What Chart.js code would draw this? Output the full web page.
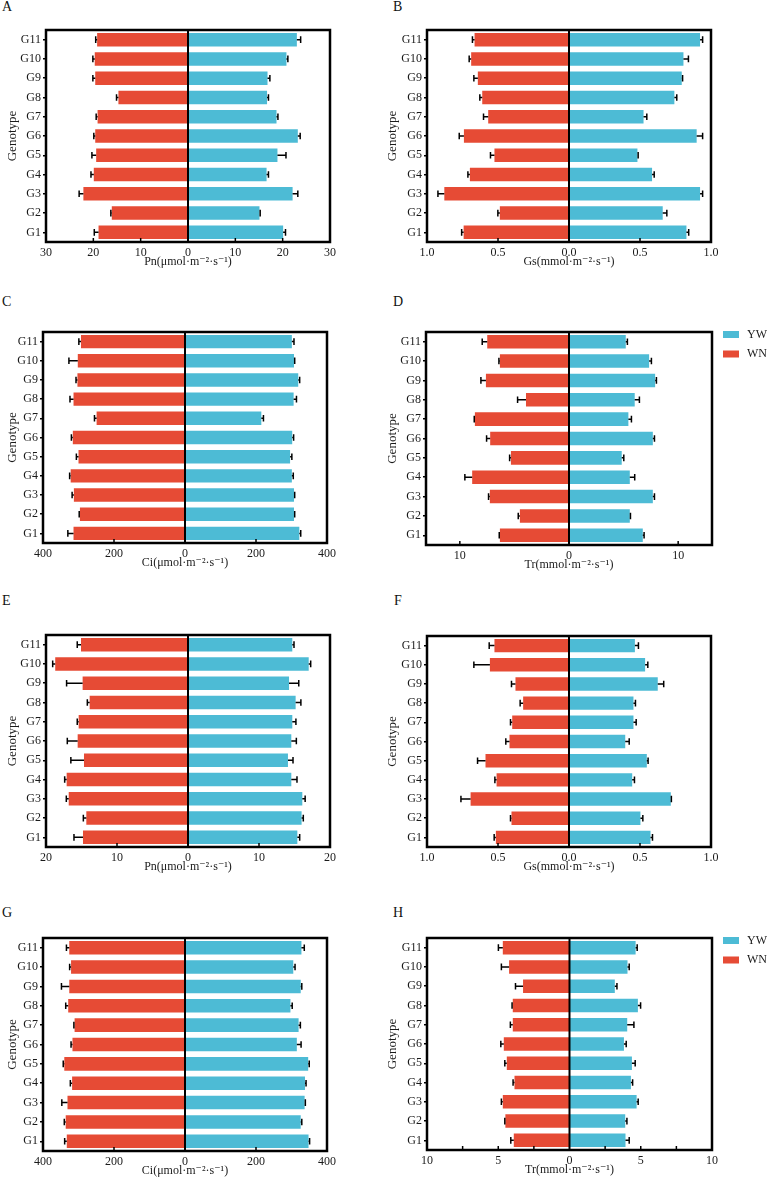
<!DOCTYPE html>
<html>
<head>
<meta charset="utf-8">
<script src="https://cdn.jsdelivr.net/npm/chart.js@4.4.1/dist/chart.umd.min.js"></script>
<style>
  body { margin: 0; background: #fff; width: 767px; height: 1181px; position: relative; overflow: hidden;
         font-family: 'Liberation Serif', 'DejaVu Serif', serif; }
  .panel { position: absolute; }
  .letter { position: absolute; font-size: 14px; line-height: 14px; color: #111; }
</style>
</head>
<body>
<div class="letter" style="left:2px;top:0px">A</div>
<div class="letter" style="left:393px;top:0px">B</div>
<div class="letter" style="left:2px;top:295px">C</div>
<div class="letter" style="left:393px;top:295px">D</div>
<div class="letter" style="left:2px;top:594px">E</div>
<div class="letter" style="left:394px;top:594px">F</div>
<div class="letter" style="left:2px;top:906px">G</div>
<div class="letter" style="left:393px;top:906px">H</div>

<script>
// genotypes, G1 at the bottom
const genotypes = ['G1', 'G2', 'G3', 'G4', 'G5', 'G6', 'G7', 'G8', 'G9', 'G10', 'G11'];

// A - Pn
const pnA_WN     = [18.9, 16.1, 22.1, 19.9, 19.4, 19.6, 19.1, 14.7, 19.6, 19.7, 19.2];
const pnA_WN_err = [0.9, 0.2, 0.9, 0.6, 0.9, 0.3, 0.3, 0.4, 0.5, 0.4, 0.3];
const pnA_YW     = [20.1, 15.1, 22.1, 16.6, 18.9, 23.2, 18.7, 16.7, 16.8, 20.8, 23.0];
const pnA_YW_err = [0.5, 0.15, 1.1, 0.4, 1.8, 0.5, 0.3, 0.3, 0.5, 0.3, 0.8];

// B - Gs
const gsB_WN     = [0.742, 0.487, 0.878, 0.698, 0.525, 0.740, 0.569, 0.611, 0.642, 0.689, 0.665];
const gsB_WN_err = [0.014, 0.014, 0.045, 0.014, 0.028, 0.033, 0.033, 0.017, 0.028, 0.014, 0.015];
const gsB_YW     = [0.827, 0.660, 0.923, 0.585, 0.482, 0.899, 0.525, 0.742, 0.794, 0.806, 0.923];
const gsB_YW_err = [0.016, 0.029, 0.018, 0.015, 0.005, 0.042, 0.023, 0.017, 0.006, 0.035, 0.018];

// C - Ci
const ciC_WN     = [314, 296, 313, 322, 300, 316, 249, 314, 303, 302, 293];
const ciC_WN_err = [16, 2, 5, 3, 6, 4, 6, 10, 4, 25, 6];
const ciC_YW     = [322, 307, 307, 301, 296, 302, 215, 306, 319, 307, 301];
const ciC_YW_err = [4, 2, 2, 4, 5, 4, 6, 8, 4, 2, 6];

// D - Tr
const trD_WN     = [6.33, 4.50, 7.25, 8.87, 5.32, 7.22, 8.62, 3.94, 7.61, 6.33, 7.49];
const trD_WN_err = [0.06, 0.15, 0.12, 0.67, 0.12, 0.33, 0.06, 0.77, 0.46, 0.09, 0.46];
const trD_YW     = [6.76, 5.57, 7.68, 5.57, 4.83, 7.68, 5.44, 6.02, 7.89, 7.34, 5.20];
const trD_YW_err = [0.12, 0.06, 0.15, 0.45, 0.19, 0.15, 0.28, 0.43, 0.12, 0.21, 0.15];

// E - Pn
const pnE_WN     = [14.79, 14.32, 16.8, 17.09, 14.65, 15.54, 15.4, 13.85, 14.84, 18.7, 15.07];
const pnE_WN_err = [1.27, 0.42, 0.34, 0.28, 1.85, 1.46, 0.2, 0.33, 2.26, 0.36, 0.53];
const pnE_YW     = [15.4, 16.0, 16.1, 14.55, 14.08, 14.55, 14.69, 15.16, 14.23, 17.0, 14.69];
const pnE_YW_err = [0.33, 0.24, 0.4, 0.8, 0.71, 0.71, 0.51, 0.74, 1.37, 0.28, 0.24];

// F - Gs
const gsF_WN     = [0.515, 0.405, 0.693, 0.510, 0.588, 0.419, 0.400, 0.323, 0.377, 0.557, 0.525];
const gsF_WN_err = [0.012, 0.007, 0.068, 0.012, 0.056, 0.026, 0.012, 0.021, 0.028, 0.113, 0.037];
const gsF_YW     = [0.574, 0.503, 0.717, 0.445, 0.548, 0.396, 0.454, 0.454, 0.625, 0.536, 0.464];
const gsF_YW_err = [0.014, 0.017, 0.004, 0.016, 0.009, 0.028, 0.019, 0.014, 0.042, 0.019, 0.025];

// G - Ci
const ciG_WN     = [333, 336, 331, 318, 340, 317, 311, 329, 326, 321, 326];
const ciG_WN_err = [6, 4, 16, 5, 3, 4, 2, 7, 22, 4, 8];
const ciG_YW     = [348, 326, 337, 338, 347, 315, 320, 297, 326, 305, 328];
const ciG_YW_err = [3, 3, 2, 3, 3, 12, 5, 5, 3, 5, 8];

// H - Tr
const trH_WN     = [3.91, 4.50, 4.68, 3.86, 4.40, 4.61, 3.98, 3.98, 3.26, 4.24, 4.68];
const trH_WN_err = [0.21, 0.04, 0.10, 0.10, 0.14, 0.21, 0.17, 0.05, 0.53, 0.54, 0.31];
const trH_YW     = [3.93, 3.91, 4.71, 4.31, 4.38, 3.82, 4.05, 4.80, 3.18, 4.07, 4.64];
const trH_YW_err = [0.26, 0.12, 0.11, 0.12, 0.23, 0.16, 0.47, 0.19, 0.15, 0.12, 0.11];

// tick values and labels
const ticksPnA = [-30, -20, -10, 0, 10, 20, 30];
const labelsPnA = ['30', '20', '10', '0', '10', '20', '30'];
const ticksGs = [-1, -0.5, 0, 0.5, 1];
const labelsGs = ['1.0', '0.5', '0.0', '0.5', '1.0'];
const ticksCi = [-400, -200, 0, 200, 400];
const labelsCi = ['400', '200', '0', '200', '400'];
const ticksTrD = [-10, 0, 10];
const labelsTrD = ['10', '0', '10'];
const ticksPnE = [-20, -10, 0, 10, 20];
const labelsPnE = ['20', '10', '0', '10', '20'];
const ticksTrH = [-10, -7.5, -5, -2.5, 0, 2.5, 5, 7.5, 10];
const labelsTrH = ['10', '', '5', '', '0', '', '5', '', '10'];

const titlePn = 'Pn(μmol·m⁻²·s⁻¹)';
const titleGs = 'Gs(mmol·m⁻²·s⁻¹)';
const titleCi = 'Ci(μmol·m⁻²·s⁻¹)';
const titleTr = 'Tr(mmol·m⁻²·s⁻¹)';

const colorYW = '#4DBBD5';
const colorWN = '#E64B35';

const serif = "'Liberation Serif', 'DejaVu Serif', serif";
Chart.defaults.font.family = serif;
Chart.defaults.font.size = 12;
Chart.defaults.color = '#1a1a1a';

// error bars, zero line, inward ticks, frame and legend
const panelDecor = {
    id: 'panelDecor',
    afterDatasetsDraw(chart, args, opts) {
        const ctx = chart.ctx;
        const area = chart.chartArea;
        const xs = chart.scales.x;
        ctx.save();
        ctx.strokeStyle = '#000';
        ctx.lineWidth = 1.5;
        chart.data.datasets.forEach(function (ds, di) {
            const meta = chart.getDatasetMeta(di);
            meta.data.forEach(function (bar, i) {
                const v = ds.data[i];
                const end = xs.getPixelForValue(v + Math.sign(v) * ds.errors[i]);
                ctx.beginPath();
                ctx.moveTo(bar.x, bar.y);
                ctx.lineTo(end, bar.y);
                ctx.moveTo(end, bar.y - 3.3);
                ctx.lineTo(end, bar.y + 3.3);
                ctx.stroke();
            });
        });
        // zero line
        const x0 = xs.getPixelForValue(0);
        ctx.lineWidth = 2;
        ctx.beginPath();
        ctx.moveTo(x0, area.top);
        ctx.lineTo(x0, area.bottom);
        ctx.stroke();
        // tick marks pointing into the plot
        ctx.lineWidth = 1.5;
        xs.ticks.forEach(function (t) {
            if (t.value === 0 || t.value === xs.min || t.value === xs.max) return;
            const px = xs.getPixelForValue(t.value);
            ctx.beginPath();
            ctx.moveTo(px, area.bottom);
            ctx.lineTo(px, area.bottom - 4);
            ctx.stroke();
        });
        // frame
        ctx.lineWidth = 2.5;
        ctx.strokeRect(area.left, area.top, area.right - area.left, area.bottom - area.top);
        // legend to the right of the frame
        if (opts.legend) {
            ctx.font = '12px ' + serif;
            ctx.textBaseline = 'middle';
            chart.data.datasets.forEach(function (ds, di) {
                const y = area.top - 1 + di * 19.5;
                ctx.fillStyle = ds.backgroundColor;
                ctx.fillRect(area.right + 11, y, 16, 7);
                ctx.fillStyle = '#1a1a1a';
                ctx.fillText(ds.label, area.right + 35, y + 3.5);
            });
        }
        ctx.restore();
    }
};

function makePanel(p) {
    const divLeft = p.col === 0 ? 0 : 380;
    const width = p.col === 0 ? 340 : 387;
    const divTop = p.frame.t - 10;
    const height = (p.frame.b - p.frame.t) + 10 + 35;

    const div = document.createElement('div');
    div.className = 'panel';
    div.style.left = divLeft + 'px';
    div.style.top = divTop + 'px';
    div.style.width = width + 'px';
    div.style.height = height + 'px';
    const canvas = document.createElement('canvas');
    canvas.width = width;
    canvas.height = height;
    div.appendChild(canvas);
    document.body.appendChild(div);

    new Chart(canvas.getContext('2d'), {
        type: 'bar',
        data: {
            labels: genotypes,
            datasets: [
                {
                    label: 'YW',
                    data: p.yw,
                    errors: p.ywErr,
                    backgroundColor: colorYW,
                    borderWidth: 0,
                    grouped: false,
                    barPercentage: 0.7,
                    categoryPercentage: 1.0
                },
                {
                    label: 'WN',
                    data: p.wn.map(function (v) { return -v; }),
                    errors: p.wnErr,
                    backgroundColor: colorWN,
                    borderWidth: 0,
                    grouped: false,
                    barPercentage: 0.7,
                    categoryPercentage: 1.0
                }
            ]
        },
        options: {
            indexAxis: 'y',
            responsive: false,
            animation: false,
            devicePixelRatio: 1,
            layout: {
                padding: { top: 10, left: 0, bottom: 0, right: width - (p.frame.r - divLeft) }
            },
            scales: {
                x: {
                    min: p.min,
                    max: p.max,
                    grid: { display: false, drawTicks: false },
                    border: { display: false },
                    afterBuildTicks: function (scale) {
                        scale.ticks = p.ticks.map(function (v) { return { value: v }; });
                    },
                    afterFit: function (scale) { scale.height = 35; },
                    ticks: {
                        autoSkip: false,
                        maxRotation: 0,
                        padding: 4,
                        callback: function (value, index) { return p.tickLabels[index]; }
                    },
                    title: {
                        display: true,
                        text: p.title,
                        padding: { top: 0, bottom: 8 }
                    }
                },
                y: {
                    reverse: true,
                    grid: {
                        drawOnChartArea: false,
                        offset: false,
                        color: '#000',
                        lineWidth: 1.5,
                        tickLength: 3
                    },
                    border: { display: false },
                    afterFit: function (scale) { scale.width = p.frame.l - divLeft; },
                    ticks: { padding: 2, autoSkip: false },
                    title: {
                        display: true,
                        text: 'Genotype',
                        font: { size: 13 },
                        padding: { top: 5, bottom: 0 }
                    }
                }
            },
            plugins: {
                legend: { display: false },
                tooltip: { enabled: false },
                panelDecor: { legend: p.legend }
            }
        },
        plugins: [panelDecor]
    });
}

const panels = [
    { col: 0, frame: { l: 46, t: 30, r: 331, b: 242 }, wn: pnA_WN, wnErr: pnA_WN_err, yw: pnA_YW, ywErr: pnA_YW_err,
      min: -30, max: 30, ticks: ticksPnA, tickLabels: labelsPnA, title: titlePn, legend: false },
    { col: 1, frame: { l: 427, t: 30, r: 711, b: 242 }, wn: gsB_WN, wnErr: gsB_WN_err, yw: gsB_YW, ywErr: gsB_YW_err,
      min: -1, max: 1, ticks: ticksGs, tickLabels: labelsGs, title: titleGs, legend: false },
    { col: 0, frame: { l: 43, t: 332, r: 328, b: 543 }, wn: ciC_WN, wnErr: ciC_WN_err, yw: ciC_YW, ywErr: ciC_YW_err,
      min: -400, max: 400, ticks: ticksCi, tickLabels: labelsCi, title: titleCi, legend: false },
    { col: 1, frame: { l: 426, t: 332, r: 712, b: 545 }, wn: trD_WN, wnErr: trD_WN_err, yw: trD_YW, ywErr: trD_YW_err,
      min: -13.1, max: 13.1, ticks: ticksTrD, tickLabels: labelsTrD, title: titleTr, legend: true },
    { col: 0, frame: { l: 46, t: 635, r: 331, b: 847 }, wn: pnE_WN, wnErr: pnE_WN_err, yw: pnE_YW, ywErr: pnE_YW_err,
      min: -20, max: 20, ticks: ticksPnE, tickLabels: labelsPnE, title: titlePn, legend: false },
    { col: 1, frame: { l: 427, t: 636, r: 711, b: 847 }, wn: gsF_WN, wnErr: gsF_WN_err, yw: gsF_YW, ywErr: gsF_YW_err,
      min: -1, max: 1, ticks: ticksGs, tickLabels: labelsGs, title: titleGs, legend: false },
    { col: 0, frame: { l: 43, t: 938, r: 328, b: 1151 }, wn: ciG_WN, wnErr: ciG_WN_err, yw: ciG_YW, ywErr: ciG_YW_err,
      min: -400, max: 400, ticks: ticksCi, tickLabels: labelsCi, title: titleCi, legend: false },
    { col: 1, frame: { l: 427, t: 938, r: 712, b: 1150 }, wn: trH_WN, wnErr: trH_WN_err, yw: trH_YW, ywErr: trH_YW_err,
      min: -10, max: 10, ticks: ticksTrH, tickLabels: labelsTrH, title: titleTr, legend: true }
];

panels.forEach(makePanel);
</script>
</body>
</html>
